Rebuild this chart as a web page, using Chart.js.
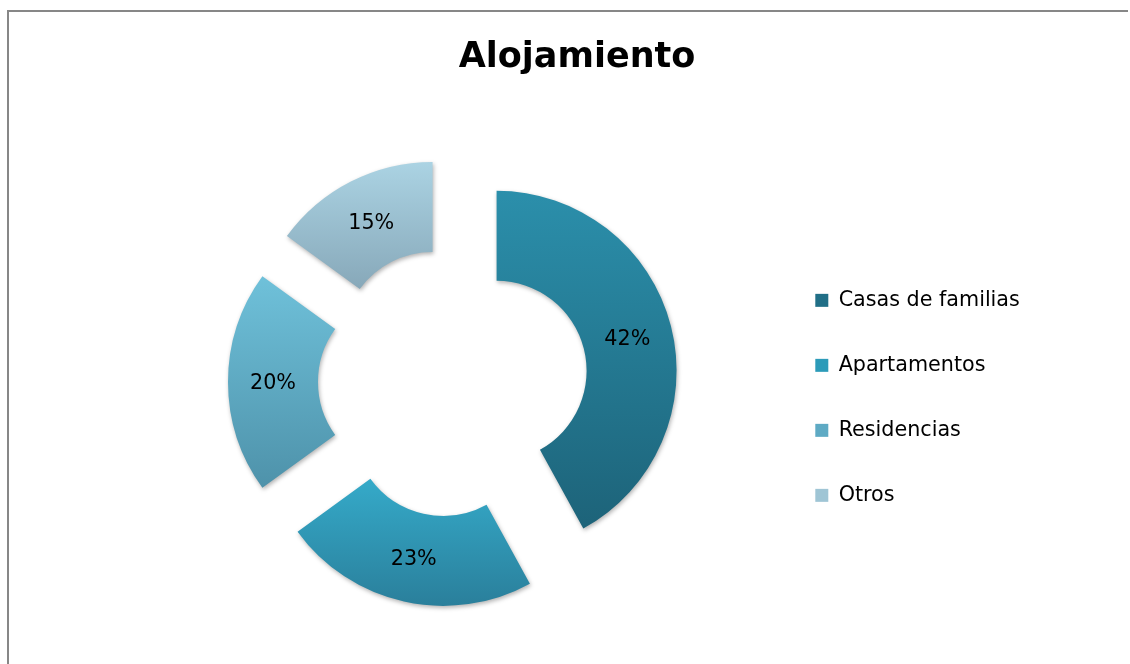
<!DOCTYPE html>
<html>
<head>
<meta charset="utf-8">
<script src="https://cdn.jsdelivr.net/npm/chart.js"></script>
<style>
body { margin: 0; background: #fff; }
</style>
</head>
<body>
<canvas id="myChart" width="1130" height="664"></canvas>
<script>
var categories = ['Casas de familias', 'Apartamentos', 'Residencias', 'Otros'];
var percentages = [42, 23, 20, 15];
var legendColors = ['#216f87', '#2c9bb9', '#5eaac4', '#9fc5d5'];
var topColors = ['#2b8fab', '#35aac9', '#6fc1da', '#abd3e3'];
var bottomColors = ['#1d6379', '#2a7f9b', '#4e92aa', '#87a8b9'];

var explode = 45;
var labelFont = '20.7px "DejaVu Sans"';

// grey frame of the chart box (only left and top edges are visible)
var frame = {
  id: 'frame',
  beforeDraw: function(chart) {
    var c = chart.ctx;
    c.save();
    c.fillStyle = '#878787';
    c.fillRect(7, 10, 2, 654);
    c.fillRect(7, 10, 1121, 2);
    c.restore();
  }
};

// pull every slice out from the centre, give it a vertical gradient and a soft shadow
var explodeSlices = {
  id: 'explodeSlices',
  afterDatasetUpdate: function(chart, args) {
    var meta = chart.getDatasetMeta(args.index);
    meta.data.forEach(function(arc, i) {
      var mid = (arc.startAngle + arc.endAngle) / 2;
      arc.x += Math.cos(mid) * explode;
      arc.y += Math.sin(mid) * explode;
      var minY = Infinity, maxY = -Infinity;
      for (var k = 0; k <= 40; k++) {
        var a = arc.startAngle + (arc.endAngle - arc.startAngle) * k / 40;
        [arc.innerRadius, arc.outerRadius].forEach(function(r) {
          var y = arc.y + Math.sin(a) * r;
          minY = Math.min(minY, y);
          maxY = Math.max(maxY, y);
        });
      }
      var g = chart.ctx.createLinearGradient(0, minY, 0, maxY);
      g.addColorStop(0, topColors[i]);
      g.addColorStop(1, bottomColors[i]);
      arc.options = Object.assign({}, arc.options, { backgroundColor: g });
    });
  },
  beforeDatasetDraw: function(chart) {
    var c = chart.ctx;
    c.shadowColor = 'rgba(0,0,0,0.3)';
    c.shadowBlur = 4;
    c.shadowOffsetX = 1;
    c.shadowOffsetY = 2;
  },
  afterDatasetDraw: function(chart) {
    var c = chart.ctx;
    c.shadowColor = 'rgba(0,0,0,0)';
    c.shadowBlur = 0;
    c.shadowOffsetX = 0;
    c.shadowOffsetY = 0;
  },
  afterDatasetsDraw: function(chart) {
    var c = chart.ctx;
    var meta = chart.getDatasetMeta(0);
    c.save();
    c.font = labelFont;
    c.fillStyle = '#000';
    c.textAlign = 'center';
    c.textBaseline = 'middle';
    meta.data.forEach(function(arc, i) {
      var p = arc.tooltipPosition();
      c.fillText(percentages[i] + '%', p.x, p.y + 2);
    });
    c.restore();
  }
};

var ctx = document.getElementById('myChart').getContext('2d');
new Chart(ctx, {
  type: 'doughnut',
  data: {
    labels: categories,
    datasets: [{
      data: percentages,
      backgroundColor: legendColors,
      borderWidth: 0
    }]
  },
  options: {
    responsive: false,
    animation: false,
    radius: 180,
    cutout: '50%',
    layout: { padding: { left: 135, right: 111, top: 0, bottom: 114 } },
    plugins: {
      title: {
        display: true,
        text: 'Alojamiento',
        color: '#000',
        font: { family: 'DejaVu Sans', size: 35, weight: 'bold' },
        padding: { top: 37, bottom: 135 }
      },
      legend: {
        position: 'right',
        align: 'end',
        maxWidth: 248,
        labels: {
          boxWidth: 13,
          boxHeight: 13,
          padding: 44.3,
          color: '#000',
          font: { family: 'DejaVu Sans', size: 20.7 }
        }
      },
      tooltip: { enabled: false }
    }
  },
  plugins: [frame, explodeSlices]
});
</script>
</body>
</html>
